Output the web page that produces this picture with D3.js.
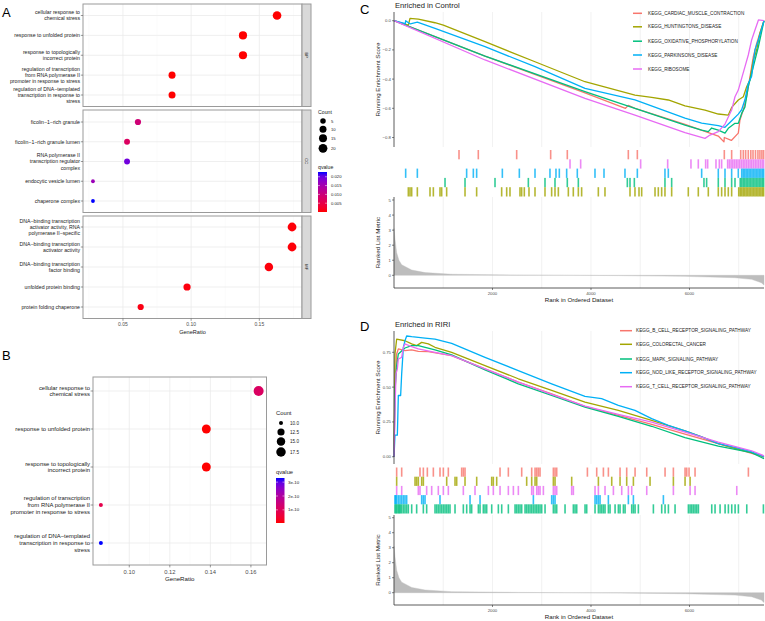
<!DOCTYPE html>
<html><head><meta charset="utf-8">
<script src="https://cdn.jsdelivr.net/npm/d3@7/dist/d3.min.js"></script>
<style>html,body{margin:0;padding:0;background:#fff}svg{display:block}text{font-family:"Liberation Sans",Arial,Helvetica,sans-serif}</style>
</head><body>
<svg width="765" height="621"></svg>
<script>
// ================= DATA =================
// Panel A : GO enrichment, faceted BP / CC / MF
const bpTerms = ["cellular response to|chemical stress","response to unfolded protein","response to topologically|incorrect protein","regulation of transcription|from RNA polymerase II|promoter in response to stress","regulation of DNA\u2212templated|transcription in response to|stress"];
const bpRatio = [0.163,0.138,0.138,0.086,0.086];
const bpCount = [19,16,16,10,10];
const bpQvalue = [1.1e-10,0.05e-10,0.05e-10,0.8e-10,3.3e-10];
const ccTerms = ["ficolin\u22121\u2212rich granule","ficolin\u22121\u2212rich granule lumen","RNA polymerase II|transcription regulator|complex","endocytic vesicle lumen","chaperone complex"];
const ccRatio = [0.061,0.053,0.053,0.028,0.028];
const ccCount = [7,6,6,3,3];
const ccQvalue = [0.0094,0.0072,0.0195,0.0160,0.0227];
const mfTerms = ["DNA\u2212binding transcription|activator activity, RNA|polymerase II\u2212specific","DNA\u2212binding transcription|activator activity","DNA\u2212binding transcription|factor binding","unfolded protein binding","protein folding chaperone"];
const mfRatio = [0.174,0.174,0.157,0.097,0.063];
const mfCount = [20,20,18,11,7];
const mfQvalue = [0.0003,0.0003,0.0004,0.0005,0.0008];
const aRatioTicks = [0.05,0.10,0.15];
const aCountBreaks = [5,10,15,20];
const aQBreaks = [0.005,0.010,0.015,0.020];

// Panel B : GO BP dot plot
const bTerms = ["cellular response to|chemical stress","response to unfolded protein","response to topologically|incorrect protein","regulation of transcription|from RNA polymerase II|promoter in response to stress","regulation of DNA\u2212templated|transcription in response to|stress"];
const bRatio = [0.1638,0.138,0.138,0.086,0.086];
const bCount = [19,16,16,10,10];
const bQvalue = [1.1e-10,0.05e-10,0.05e-10,0.8e-10,3.3e-10];
const bRatioTicks = [0.10,0.12,0.14,0.16];
const bCountBreaks = [10,12.5,15,17.5];
const bQBreaks = [1e-10,2e-10,3e-10];
const bQLabels = ["1e-10","2e-10","3e-10"];

// GSEA common
const nGenes = 7513;
const rankTicks = [2000,4000,6000];
const rankGrid = [1000,2000,3000,4000,5000,6000,7000];
const hueCols = ["#F8766D","#A3A500","#00BF7D","#00B0F6","#E76BF3"];
const rankedMetric = [[0,3.1],[20,2.4],[54,1.5],[100,1.0],[156,0.7],[359,0.35],[630,0.18],[1171,0.07],[2524,0.02],[4555,-0.02],[5909,-0.07],[6924,-0.16],[7262,-0.27],[7459,-0.49],[7513,-0.65]];
const metricTicks = [0,1,2,3,4,5];

// Panel C : Enriched in Control
const cNames = ["KEGG_CARDIAC_MUSCLE_CONTRACTION","KEGG_HUNTINGTONS_DISEASE","KEGG_OXIDATIVE_PHOSPHORYLATION","KEGG_PARKINSONS_DISEASE","KEGG_RIBOSOME"];
const esCardiac = [[0,0],[1848,-0.242],[3878,-0.495],[4700,-0.6],[4758,-0.58],[4893,-0.6],[5909,-0.71],[6585,-0.79],[6700,-0.83],[6707,-0.8],[6850,-0.82],[6991,-0.77],[7025,-0.68],[7093,-0.61],[7161,-0.52],[7228,-0.385],[7296,-0.247],[7364,-0.155],[7428,-0.087],[7513,0]];
const esHuntington = [[0,0],[291,-0.03],[325,0.016],[494,0.011],[832,-0.014],[1002,-0.03],[1848,-0.144],[2863,-0.281],[3878,-0.418],[4893,-0.509],[5232,-0.525],[5570,-0.543],[5909,-0.584],[6315,-0.612],[6585,-0.639],[6788,-0.646],[6856,-0.594],[6991,-0.543],[7093,-0.521],[7161,-0.452],[7228,-0.406],[7296,-0.269],[7364,-0.201],[7428,-0.087],[7513,0]];
const esOxphos = [[0,0],[1848,-0.242],[3878,-0.486],[4893,-0.6],[5909,-0.715],[6247,-0.75],[6382,-0.76],[6450,-0.735],[6585,-0.75],[6721,-0.77],[6788,-0.737],[6924,-0.703],[6991,-0.703],[7059,-0.635],[7127,-0.59],[7194,-0.452],[7262,-0.361],[7330,-0.269],[7400,-0.178],[7513,0]];
const esParkinsons = [[0,0],[230,-0.02],[237,0],[330,-0.022],[474,-0.01],[832,-0.053],[1848,-0.178],[2863,-0.315],[3878,-0.463],[4893,-0.543],[5909,-0.667],[6247,-0.701],[6585,-0.719],[6720,-0.73],[6856,-0.685],[6991,-0.64],[7059,-0.61],[7127,-0.54],[7194,-0.43],[7262,-0.38],[7330,-0.2],[7400,-0.13],[7513,0]];
const esRibosome = [[0,0],[1848,-0.269],[3878,-0.532],[4893,-0.646],[5909,-0.767],[6315,-0.806],[6416,-0.783],[6585,-0.76],[6721,-0.708],[6856,-0.612],[6924,-0.521],[6991,-0.475],[7059,-0.395],[7127,-0.315],[7194,-0.235],[7262,-0.132],[7330,-0.064],[7400,0.005],[7513,0]];
const hitCardiac = [1320,1712,2491,3181,3519,4758,4941,6707,6856,7040,7093,7140,7194,7245,7290,7340,7390,7430,7470,7505];
const hitRibosome = [3574,3790,5008,5557,6030,6179,6328,6369,6538,6606,6653,6775,6810,6845,6880,6915,6950,6985,7020,7055,7090,7125,7160,7195,7230,7265,7300,7335,7370,7405,7440,7475,7505];
const hitParkinsons = [237,474,1475,1611,1678,2200,2545,2863,3167,3289,3357,3506,3722,4081,4264,4690,4941,5502,5570,6247,6585,6721,6856,6991,7060,7090,7120,7150,7180,7210,7240,7270,7300,7330,7360,7390,7420,7450,7480,7505];
const hitOxphos = [1036,1442,2051,2728,3066,3269,3519,3743,4738,4792,4880,5502,5638,6294,6348,6585,6721,6856,6924,7030,7060,7090,7120,7150,7180,7210,7240,7270,7300,7330,7360,7390,7420,7450,7480,7505];
const hitHuntington = [291,325,359,474,731,799,934,968,1069,1442,1678,2186,2288,2355,2558,2592,2646,2741,2863,3066,3201,3269,3337,3540,3641,3743,3810,4149,4284,4792,4893,4975,5029,5300,5367,5435,5502,5638,5976,6179,6382,6585,6653,6721,6788,6856,7000,7030,7060,7090,7120,7150,7180,7210,7240,7270,7300,7330,7360,7390,7420,7450,7480,7505];
const cEsTicks = [0,-0.2,-0.4,-0.6,-0.8];

// Panel D : Enriched in RIRI
const dNames = ["KEGG_B_CELL_RECEPTOR_SIGNALING_PATHWAY","KEGG_COLORECTAL_CANCER","KEGG_MAPK_SIGNALING_PATHWAY","KEGG_NOD_LIKE_RECEPTOR_SIGNALING_PATHWAY","KEGG_T_CELL_RECEPTOR_SIGNALING_PATHWAY"];
const esBcell = [[0,0],[20,0.45],[54,0.738],[88,0.774],[223,0.762],[359,0.767],[494,0.757],[697,0.755],[1171,0.726],[1848,0.631],[2524,0.536],[3201,0.452],[3878,0.362],[4555,0.298],[5232,0.233],[5909,0.162],[6585,0.095],[6924,0.06],[7262,0.024],[7513,0]];
const esColorectal = [[0,0],[20,0.738],[54,0.845],[223,0.833],[359,0.81],[460,0.798],[562,0.821],[697,0.81],[832,0.786],[1171,0.75],[1848,0.655],[2524,0.56],[3201,0.476],[3878,0.393],[4555,0.333],[5232,0.262],[5909,0.186],[6247,0.143],[6585,0.095],[6924,0.06],[7262,0.029],[7513,0]];
const esMapk = [[0,0],[20,0.476],[54,0.655],[88,0.738],[223,0.781],[359,0.798],[494,0.798],[832,0.767],[1171,0.731],[1848,0.624],[2524,0.524],[3201,0.44],[3878,0.357],[4555,0.29],[5232,0.219],[5909,0.138],[6585,0.076],[7262,0.029],[7513,-0.014]];
const esNod = [[0,0],[20,0.155],[68,0.155],[88,0.44],[135,0.44],[156,0.595],[190,0.786],[223,0.833],[257,0.867],[359,0.862],[494,0.857],[630,0.852],[832,0.845],[1171,0.814],[1848,0.714],[2524,0.619],[3201,0.524],[3878,0.433],[4216,0.417],[4555,0.369],[4893,0.333],[5232,0.274],[5570,0.226],[5909,0.186],[6247,0.143],[6585,0.095],[6924,0.067],[7262,0.036],[7513,0]];
const esTcell = [[0,0],[20,0.333],[41,0.595],[68,0.631],[88,0.702],[156,0.714],[190,0.786],[223,0.81],[359,0.79],[494,0.774],[832,0.75],[1171,0.726],[1848,0.631],[2524,0.536],[3201,0.448],[3878,0.364],[4555,0.305],[5232,0.248],[5909,0.176],[6585,0.105],[7262,0.043],[7513,0.007]];
const hitBcell = [54,156,528,596,677,799,934,1002,1103,1374,1408,1442,2153,2322,2593,2796,2864,2898,2931,2965,3236,3270,3304,3927,4116,4252,4353,4590,4725,4895,5132,5504,5673,5910,5944,5991,6113,7196];
const hitColorectal = [54,427,460,494,562,596,1070,1239,1273,1442,1679,1984,2017,2085,2694,2796,2864,2898,3236,3270,3608,4150,4421,4590,4725,4861,5199,5673,5910,6012];
const hitTcell = [54,156,494,528,663,765,900,1002,1103,1408,1645,1916,2017,2153,2322,2424,2525,2796,2830,2898,2931,2965,3033,3236,3270,3304,3608,3642,4082,4150,4285,4455,4624,4759,4827,5132,5673,6012,6113,6960];
const hitNod = [20,34,54,88,122,156,190,223,257,562,596,630,934,1544,1747,2830,3202,3236,3270,4082,4116,4150,4184,4353,4759,4861,5470];
const hitMapk = [20,41,61,88,108,129,156,190,223,257,291,359,460,596,663,833,867,900,934,968,1002,1036,1070,1103,1137,1239,1408,1476,1544,1577,1713,1747,1814,1848,1882,1984,2119,2187,2322,2458,2491,2525,2559,2593,2661,2694,2728,2762,2796,2830,2864,2898,2931,2965,2999,3067,3236,3270,3304,3473,3642,3676,3710,3879,3913,4082,4150,4184,4218,4252,4285,4353,4387,4489,4556,4590,4658,4692,4827,4861,4895,4962,5267,5436,5504,5572,5707,5978,6012,6046,6079,6113,6147,6181,6452,6519,6621,6723,6790,6858,6926,6993,7163,7501];
const dEsTicks = [0,0.25,0.5,0.75];

// ================= DRAW =================
const svg = d3.select("svg");
const BORDER = "#9a9a9a", GRID = "#ebebeb", GRIDMIN = "#f4f4f4", AXT = "#4d4d4d", TXT = "#1a1a1a";

function mlabel(g, x, y, str, fs, lh, anchor) {
  const parts = str.split("|");
  const t = g.append("text").attr("font-size", fs).attr("text-anchor", anchor).attr("fill", TXT);
  const y0 = y - (parts.length - 1) * lh / 2 + fs * 0.35;
  parts.forEach((p, i) => t.append("tspan").attr("x", x).attr("y", y0 + i * lh).text(p));
}
function qScale(vals) {
  return d3.scaleLinear().domain(d3.extent(vals)).range(["red", "blue"]).interpolate(d3.interpolateLab);
}
function gradient(id, color) {
  const defs = svg.select("defs").empty() ? svg.append("defs") : svg.select("defs");
  const lg = defs.append("linearGradient").attr("id", id).attr("x1", 0).attr("y1", 1).attr("x2", 0).attr("y2", 0);
  const dom = color.domain();
  d3.range(0, 1.0001, 0.1).forEach(t => lg.append("stop").attr("offset", t).attr("stop-color", color(dom[0] + t * (dom[1] - dom[0]))));
}
function minorTicks(major, dom) {
  const step = major[1] - major[0];
  return d3.range(major[0] - step * 4 - step / 2, dom[1], step).filter(v => v > dom[0] && v < dom[1]);
}

// ---------- Panel A ----------
(function () {
  const g = svg.append("g");
  const allR = bpRatio.concat(ccRatio, mfRatio), allC = bpCount.concat(ccCount, mfCount), allQ = bpQvalue.concat(ccQvalue, mfQvalue);
  const ext = d3.extent(allR), pad = (ext[1] - ext[0]) * 0.05;
  const x = d3.scaleLinear().domain([ext[0] - pad, ext[1] + pad]).range([83, 302]);
  const cN = d3.scaleLinear().domain(d3.extent(allC)).range([0, 1]);
  const rad = c => (3.8 + 5.0 * Math.sqrt(Math.max(0, cN(c)))) / 2;
  const col = qScale(allQ);
  const facets = [
    { strip: "BP", terms: bpTerms, ratio: bpRatio, count: bpCount, q: bpQvalue, top: 4, bot: 106.5, y0: 15.5, y1: 95 },
    { strip: "CC", terms: ccTerms, ratio: ccRatio, count: ccCount, q: ccQvalue, top: 110, bot: 212.5, y0: 122, y1: 201 },
    { strip: "MF", terms: mfTerms, ratio: mfRatio, count: mfCount, q: mfQvalue, top: 216, bot: 318.5, y0: 227, y1: 307 }
  ];
  const minors = minorTicks(aRatioTicks, x.domain());
  facets.forEach(f => {
    const y = d3.scalePoint().domain(f.terms).range([f.y0, f.y1]);
    minors.forEach(v => g.append("line").attr("x1", x(v)).attr("x2", x(v)).attr("y1", f.top).attr("y2", f.bot).attr("stroke", GRIDMIN).attr("stroke-width", 0.5));
    aRatioTicks.forEach(v => g.append("line").attr("x1", x(v)).attr("x2", x(v)).attr("y1", f.top).attr("y2", f.bot).attr("stroke", GRID).attr("stroke-width", 0.8));
    f.terms.forEach(t => g.append("line").attr("x1", 83).attr("x2", 302).attr("y1", y(t)).attr("y2", y(t)).attr("stroke", GRID).attr("stroke-width", 0.8));
    f.terms.forEach((t, i) => g.append("circle").attr("cx", x(f.ratio[i])).attr("cy", y(t)).attr("r", rad(f.count[i])).attr("fill", col(f.q[i])));
    g.append("rect").attr("x", 83).attr("y", f.top).attr("width", 219).attr("height", f.bot - f.top).attr("fill", "none").attr("stroke", BORDER).attr("stroke-width", 1);
    g.append("rect").attr("x", 302).attr("y", f.top).attr("width", 9).attr("height", f.bot - f.top).attr("fill", "#d9d9d9").attr("stroke", BORDER).attr("stroke-width", 1);
    const cy = (f.top + f.bot) / 2;
    g.append("text").attr("transform", `translate(305.3,${cy}) rotate(90)`).attr("text-anchor", "middle").attr("font-size", 4).attr("fill", TXT).text(f.strip);
    f.terms.forEach(t => {
      g.append("line").attr("x1", 80.8).attr("x2", 83).attr("y1", y(t)).attr("y2", y(t)).attr("stroke", "#555").attr("stroke-width", 0.6);
      mlabel(g, 80, y(t), t, 5.2, 6.2, "end");
    });
  });
  aRatioTicks.forEach(v => {
    g.append("line").attr("x1", x(v)).attr("x2", x(v)).attr("y1", 318.5).attr("y2", 320.8).attr("stroke", "#555").attr("stroke-width", 0.6);
    g.append("text").attr("x", x(v)).attr("y", 326).attr("text-anchor", "middle").attr("font-size", 5).attr("fill", AXT).text(v.toFixed(2));
  });
  g.append("text").attr("x", 192.5).attr("y", 333.5).attr("text-anchor", "middle").attr("font-size", 5.6).attr("fill", TXT).text("GeneRatio");
  // legends
  g.append("text").attr("x", 318).attr("y", 114).attr("font-size", 5.2).attr("fill", TXT).text("Count");
  const ly = [121, 129.3, 138.3, 148.3];
  aCountBreaks.forEach((c, i) => {
    g.append("circle").attr("cx", 323).attr("cy", ly[i]).attr("r", rad(c)).attr("fill", "#000");
    g.append("text").attr("x", 331).attr("y", ly[i] + 1.5).attr("font-size", 4.2).attr("fill", TXT).text(c);
  });
  g.append("text").attr("x", 318).attr("y", 169).attr("font-size", 5.2).attr("fill", TXT).text("qvalue");
  gradient("gA", col);
  const qy = d3.scaleLinear().domain(col.domain()).range([212, 172]);
  g.append("rect").attr("x", 318).attr("y", 172).attr("width", 9).attr("height", 40).attr("fill", "url(#gA)");
  aQBreaks.forEach(v => {
    g.append("line").attr("x1", 318).attr("x2", 320).attr("y1", qy(v)).attr("y2", qy(v)).attr("stroke", "#fff").attr("stroke-width", 0.5);
    g.append("line").attr("x1", 325).attr("x2", 327).attr("y1", qy(v)).attr("y2", qy(v)).attr("stroke", "#fff").attr("stroke-width", 0.5);
    g.append("text").attr("x", 331).attr("y", qy(v) + 1.5).attr("font-size", 4.2).attr("fill", TXT).text(v.toFixed(3));
  });
  svg.append("text").attr("x", 2).attr("y", 17).attr("font-size", 13).attr("fill", "#000").text("A");
})();

// ---------- Panel B ----------
(function () {
  const g = svg.append("g");
  const L = 93, R = 266.5, T = 377, B = 565;
  const ext = d3.extent(bRatio), pad = (ext[1] - ext[0]) * 0.05;
  const x = d3.scaleLinear().domain([ext[0] - pad, ext[1] + pad]).range([L, R]);
  const y = d3.scalePoint().domain(bTerms).range([391, 543]);
  const cN = d3.scaleLinear().domain(d3.extent(bCount)).range([0, 1]);
  const rad = c => (4 + 6 * Math.sqrt(Math.max(0, cN(c)))) / 2;
  const col = qScale(bQvalue);
  minorTicks(bRatioTicks, x.domain()).forEach(v => g.append("line").attr("x1", x(v)).attr("x2", x(v)).attr("y1", T).attr("y2", B).attr("stroke", GRIDMIN).attr("stroke-width", 0.5));
  bRatioTicks.forEach(v => g.append("line").attr("x1", x(v)).attr("x2", x(v)).attr("y1", T).attr("y2", B).attr("stroke", GRID).attr("stroke-width", 0.8));
  bTerms.forEach(t => g.append("line").attr("x1", L).attr("x2", R).attr("y1", y(t)).attr("y2", y(t)).attr("stroke", GRID).attr("stroke-width", 0.8));
  bTerms.forEach((t, i) => g.append("circle").attr("cx", x(bRatio[i])).attr("cy", y(t)).attr("r", rad(bCount[i])).attr("fill", col(bQvalue[i])));
  g.append("rect").attr("x", L).attr("y", T).attr("width", R - L).attr("height", B - T).attr("fill", "none").attr("stroke", BORDER).attr("stroke-width", 1);
  bTerms.forEach(t => {
    g.append("line").attr("x1", 90.6).attr("x2", L).attr("y1", y(t)).attr("y2", y(t)).attr("stroke", "#555").attr("stroke-width", 0.6);
    mlabel(g, 90, y(t), t, 5.9, 6.8, "end");
  });
  bRatioTicks.forEach(v => {
    g.append("line").attr("x1", x(v)).attr("x2", x(v)).attr("y1", B).attr("y2", B + 2.4).attr("stroke", "#555").attr("stroke-width", 0.6);
    g.append("text").attr("x", x(v)).attr("y", 573.6).attr("text-anchor", "middle").attr("font-size", 5.8).attr("fill", AXT).text(v.toFixed(2));
  });
  g.append("text").attr("x", (L + R) / 2).attr("y", 580.5).attr("text-anchor", "middle").attr("font-size", 6.2).attr("fill", TXT).text("GeneRatio");
  g.append("text").attr("x", 276).attr("y", 415).attr("font-size", 5.8).attr("fill", TXT).text("Count");
  const ly = [423, 432, 441.5, 452];
  bCountBreaks.forEach((c, i) => {
    g.append("circle").attr("cx", 281).attr("cy", ly[i]).attr("r", rad(c)).attr("fill", "#000");
    g.append("text").attr("x", 290).attr("y", ly[i] + 1.6).attr("font-size", 4.6).attr("fill", TXT).text(c.toFixed(1));
  });
  g.append("text").attr("x", 276).attr("y", 474).attr("font-size", 5.8).attr("fill", TXT).text("qvalue");
  gradient("gB", col);
  const qy = d3.scaleLinear().domain(col.domain()).range([523, 478]);
  g.append("rect").attr("x", 276).attr("y", 478).attr("width", 8.5).attr("height", 45).attr("fill", "url(#gB)");
  bQBreaks.forEach((v, i) => {
    g.append("line").attr("x1", 276).attr("x2", 278).attr("y1", qy(v)).attr("y2", qy(v)).attr("stroke", "#fff").attr("stroke-width", 0.5);
    g.append("line").attr("x1", 282.5).attr("x2", 284.5).attr("y1", qy(v)).attr("y2", qy(v)).attr("stroke", "#fff").attr("stroke-width", 0.5);
    g.append("text").attr("x", 288).attr("y", qy(v) + 1.6).attr("font-size", 4.4).attr("fill", TXT).text(bQLabels[i]);
  });
  svg.append("text").attr("x", 2).attr("y", 360).attr("font-size", 13).attr("fill", "#000").text("B");
})();

// ---------- GSEA panels ----------
function gsea(cfg) {
  const g = svg.append("g");
  const L = 394, R = 764;
  const x = d3.scaleLinear().domain([0, nGenes]).range([L, R]);
  const yE = d3.scaleLinear().domain(cfg.esDomain).range([cfg.esBot, cfg.esTop]);
  const yM = d3.scaleLinear().domain(cfg.mDomain).range([cfg.mBot, cfg.mTop]);
  // grids
  rankGrid.forEach(v => {
    g.append("line").attr("x1", x(v)).attr("x2", x(v)).attr("y1", cfg.esTop).attr("y2", cfg.esBot).attr("stroke", GRID).attr("stroke-width", 0.7);
    g.append("line").attr("x1", x(v)).attr("x2", x(v)).attr("y1", cfg.mTop).attr("y2", cfg.mBot).attr("stroke", GRID).attr("stroke-width", 0.7);
  });
  // ES lines
  const line = d3.line().x(d => x(d[0])).y(d => yE(d[1]));
  cfg.es.forEach((s, i) => g.append("path").attr("d", line(s)).attr("fill", "none").attr("stroke", cfg.cols[i]).attr("stroke-width", 1.3).attr("stroke-linejoin", "round"));
  // axis ES
  g.append("line").attr("x1", L).attr("x2", L).attr("y1", cfg.esTop).attr("y2", cfg.esBot).attr("stroke", "#333").attr("stroke-width", 0.8);
  cfg.esTicks.forEach(v => {
    g.append("line").attr("x1", L - 2).attr("x2", L).attr("y1", yE(v)).attr("y2", yE(v)).attr("stroke", "#333").attr("stroke-width", 0.6);
    g.append("text").attr("x", L - 3).attr("y", yE(v) + 1.5).attr("text-anchor", "end").attr("font-size", 4.3).attr("fill", AXT).text(cfg.esFmt(v));
  });
  g.append("text").attr("transform", `translate(379.5,${(cfg.esTop + cfg.esBot) / 2}) rotate(-90)`).attr("text-anchor", "middle").attr("font-size", 6.2).attr("fill", TXT).text("Running Enrichment Score");
  // hits
  const band = d3.scaleBand().domain(d3.range(cfg.hits.length)).range([cfg.hTop, cfg.hBot]);
  cfg.hits.forEach((h, i) => {
    g.selectAll(null).data(h).enter().append("rect")
      .attr("x", d => x(d) - 0.8).attr("y", band(i)).attr("width", 1.6).attr("height", band.bandwidth())
      .attr("fill", cfg.hitCols[i]).attr("opacity", 0.8);
  });
  // metric
  const area = d3.area().x(d => x(d[0])).y0(yM(0)).y1(d => yM(d[1]));
  g.append("path").attr("d", area(rankedMetric)).attr("fill", "#bdbdbd").attr("stroke", "#bdbdbd").attr("stroke-width", 0.4);
  g.append("line").attr("x1", L).attr("x2", L).attr("y1", cfg.mTop).attr("y2", cfg.mBot).attr("stroke", "#333").attr("stroke-width", 0.8);
  g.append("line").attr("x1", L).attr("x2", R).attr("y1", cfg.mBot).attr("y2", cfg.mBot).attr("stroke", "#333").attr("stroke-width", 0.8);
  metricTicks.forEach(v => {
    g.append("line").attr("x1", L - 2).attr("x2", L).attr("y1", yM(v)).attr("y2", yM(v)).attr("stroke", "#333").attr("stroke-width", 0.6);
    g.append("text").attr("x", L - 3).attr("y", yM(v) + 1.5).attr("text-anchor", "end").attr("font-size", 4.3).attr("fill", AXT).text(v);
  });
  rankTicks.forEach(v => {
    g.append("line").attr("x1", x(v)).attr("x2", x(v)).attr("y1", cfg.mBot).attr("y2", cfg.mBot + 2).attr("stroke", "#333").attr("stroke-width", 0.6);
    g.append("text").attr("x", x(v)).attr("y", cfg.mBot + 7).attr("text-anchor", "middle").attr("font-size", 4.3).attr("fill", AXT).text(v);
  });
  g.append("text").attr("x", (L + R) / 2).attr("y", cfg.mBot + 14).attr("text-anchor", "middle").attr("font-size", 6.2).attr("fill", TXT).text("Rank in Ordered Dataset");
  g.append("text").attr("transform", `translate(379.5,${(cfg.mTop + cfg.mBot) / 2}) rotate(-90)`).attr("text-anchor", "middle").attr("font-size", 6.2).attr("fill", TXT).text("Ranked List Metric");
  // title
  g.append("text").attr("x", 395).attr("y", cfg.titleY).attr("font-size", 7.6).attr("fill", TXT).text(cfg.title);
  // legend
  cfg.names.forEach((n, i) => {
    const yy = cfg.legY[i];
    g.append("line").attr("x1", cfg.legX[0]).attr("x2", cfg.legX[1]).attr("y1", yy).attr("y2", yy).attr("stroke", cfg.cols[i]).attr("stroke-width", 1.5);
    g.append("text").attr("x", cfg.legX[2]).attr("y", yy + 1.6).attr("font-size", 4.7).attr("fill", TXT).text(n);
  });
  svg.append("text").attr("x", 360).attr("y", cfg.letterY).attr("font-size", 13).attr("fill", "#000").text(cfg.letter);
}

gsea({
  letter: "C", letterY: 13.5, title: "Enriched in Control", titleY: 8,
  esTop: 12, esBot: 147, esDomain: [-0.865, 0.0596], esTicks: cEsTicks, esFmt: d3.format(".1f"),
  hTop: 150, hBot: 196.5, mTop: 197, mBot: 288, mDomain: [-0.843, 5.2],
  es: [esCardiac, esHuntington, esOxphos, esParkinsons, esRibosome], cols: hueCols, names: cNames,
  hits: [hitCardiac, hitRibosome, hitParkinsons, hitOxphos, hitHuntington],
  hitCols: [hueCols[0], hueCols[4], hueCols[3], hueCols[2], hueCols[1]],
  legX: [633, 642, 648], legY: [13.3, 26.8, 41.2, 55, 69]
});
gsea({
  letter: "D", letterY: 331, title: "Enriched in RIRI", titleY: 326.5,
  esTop: 331, esBot: 464, esDomain: [-0.052, 0.903], esTicks: dEsTicks, esFmt: d3.format(".2f"),
  hTop: 467.5, hBot: 513.5, mTop: 515, mBot: 605, mDomain: [-0.82, 5.18],
  es: [esBcell, esColorectal, esMapk, esNod, esTcell], cols: hueCols, names: dNames,
  hits: [hitBcell, hitColorectal, hitTcell, hitNod, hitMapk],
  hitCols: [hueCols[0], hueCols[1], hueCols[4], hueCols[3], hueCols[2]],
  legX: [620, 632, 636], legY: [330.7, 344.3, 359, 372.7, 386.7]
});
</script>
</body></html>
